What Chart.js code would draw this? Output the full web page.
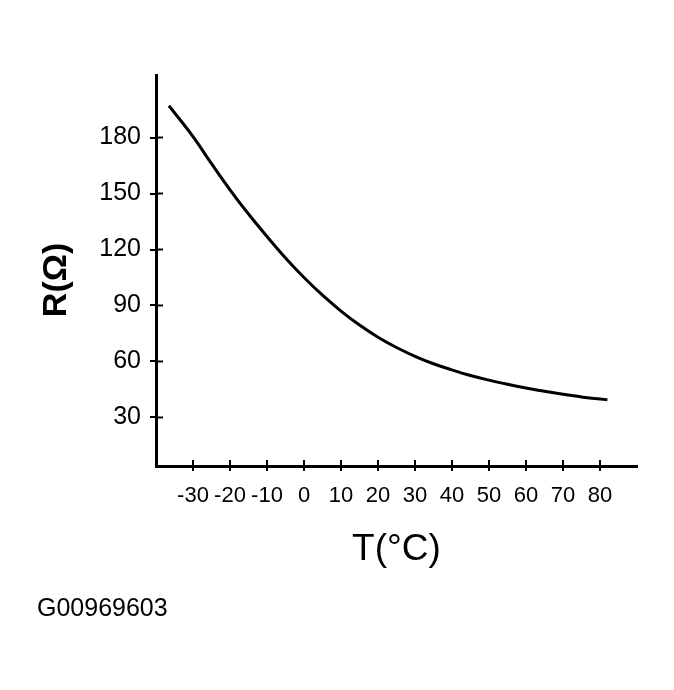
<!DOCTYPE html>
<html>
<head>
<meta charset="utf-8">
<script src="https://cdn.jsdelivr.net/npm/chart.js@4"></script>
<style>
  body { margin: 0; background: #fff; }
  .wrap { position: relative; width: 674px; height: 690px; }
  .code {
    position: absolute; left: 37px; top: 593px;
    font-family: "Liberation Sans", Arial, sans-serif; font-size: 25px; color: #000;
  }
</style>
</head>
<body>
<div class="wrap">
  <canvas id="rtChart" width="674" height="690"></canvas>
  <div class="code">G00969603</div>
</div>
<script>
// curve: temperature (°C) vs resistance (ohm)
var temps = [-36.5, -30, -25, -20, -15, -10, -5, 0, 5, 10, 15, 20, 25, 30, 35, 40, 45, 50, 55, 60, 65, 70, 75, 80, 82];
var resistance = [197, 180.5, 166, 152, 139, 127, 115.5, 105, 95.5, 87, 79.5, 73, 67.5, 62.8, 58.8, 55.5, 52.5, 50, 47.8, 45.8, 44, 42.4, 41, 39.9, 39.5];
var xTicks = [-30, -20, -10, 0, 10, 20, 30, 40, 50, 60, 70, 80];
var yTicks = [30, 60, 90, 120, 150, 180];

var fontFamily = '"Liberation Sans", Arial, Helvetica, sans-serif';

// tick marks cross the axis line, draw the inner half here
var innerTicks = {
  id: "innerTicks",
  afterDraw: function (chart) {
    var ctx = chart.ctx;
    var area = chart.chartArea;
    ctx.save();
    ctx.strokeStyle = "#000";
    ctx.lineWidth = 2;
    chart.scales.x.ticks.forEach(function (t) {
      var px = chart.scales.x.getPixelForValue(t.value);
      ctx.beginPath();
      ctx.moveTo(px, area.bottom - 6);
      ctx.lineTo(px, area.bottom);
      ctx.stroke();
    });
    chart.scales.y.ticks.forEach(function (t) {
      var py = chart.scales.y.getPixelForValue(t.value);
      ctx.beginPath();
      ctx.moveTo(area.left, py);
      ctx.lineTo(area.left + 7, py);
      ctx.stroke();
    });
    ctx.restore();
  },
};

var ctx = document.getElementById("rtChart").getContext("2d");
var rtChart = new Chart(ctx, {
  type: "line",
  data: {
    datasets: [
      {
        data: temps.map(function (t, i) {
          return { x: t, y: resistance[i] };
        }),
        borderColor: "#000",
        borderWidth: 3,
        pointRadius: 0,
        fill: false,
        tension: 0.4,
      },
    ],
  },
  options: {
    responsive: false,
    animation: false,
    layout: {
      padding: { top: 75, right: 37, bottom: 114, left: 0 },
    },
    plugins: {
      legend: { display: false },
      tooltip: { enabled: false },
    },
    scales: {
      x: {
        type: "linear",
        min: -40,
        max: 90,
        afterBuildTicks: function (scale) {
          scale.ticks = xTicks.map(function (v) {
            return { value: v };
          });
        },
        afterFit: function (scale) {
          scale.height = 110;
        },
        ticks: {
          color: "#000",
          padding: 12,
          maxRotation: 0,
          autoSkip: false,
          font: { family: fontFamily, size: 22 },
        },
        grid: {
          drawOnChartArea: false,
          drawTicks: true,
          tickLength: 5,
          color: "#000",
          lineWidth: 2,
        },
        border: { color: "#000", width: 3 },
        title: {
          display: true,
          text: "T(°C)",
          color: "#000",
          font: { family: fontFamily, size: 37 },
          padding: { top: 0, bottom: 4 },
        },
      },
      y: {
        type: "linear",
        min: 4,
        max: 213.5,
        afterBuildTicks: function (scale) {
          scale.ticks = yTicks.map(function (v) {
            return { value: v };
          });
        },
        afterFit: function (scale) {
          scale.width = 156;
        },
        ticks: {
          color: "#000",
          padding: 9,
          font: { family: fontFamily, size: 25 },
        },
        grid: {
          drawOnChartArea: false,
          drawTicks: true,
          tickLength: 6,
          color: "#000",
          lineWidth: 2,
        },
        border: { color: "#000", width: 3 },
        title: {
          display: true,
          text: "R(Ω)  ",
          color: "#000",
          font: { family: fontFamily, size: 34, weight: "bold" },
          padding: { top: 36, bottom: 0 },
        },
      },
    },
  },
  plugins: [innerTicks],
});
</script>
</body>
</html>
